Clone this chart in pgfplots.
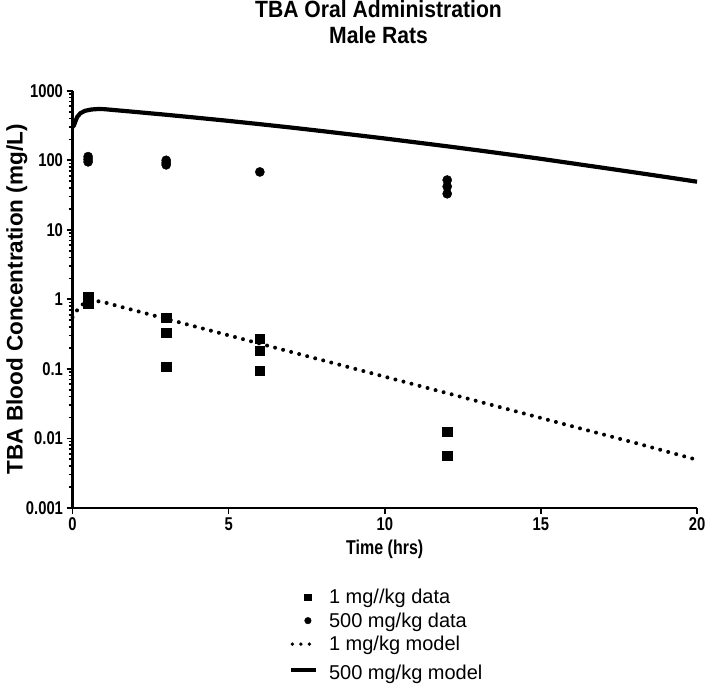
\documentclass[border=0pt]{standalone}
\usepackage{fontspec}
\setmainfont{Liberation Sans}
\newfontfamily\cond{Liberation Sans}[FakeStretch=0.8]
\newfontfamily\condt{Liberation Sans}[FakeStretch=0.9]
\usepackage{pgfplots}
\pgfplotsset{compat=1.18}

\pgfplotstableread{
x y
0.5 1.10
0.5 0.95
0.5 0.87
3 0.55
3 0.33
3 0.107
6 0.27
6 0.18
6 0.093
12 0.0124
12 0.0056
}\lowdata

\pgfplotstableread{
x y
0.5 113
0.5 103
0.5 95
3 100
3 92
3 86
6 68
12 52
12 42
12 33
}\highdata

\pgfplotstableread{
x y
0 0.55
0.1 0.65
0.2 0.75
0.3 0.83
0.45 0.91
0.6 0.95
0.8 0.94
1 0.91
1.5 0.79
2 0.69
3 0.524
4 0.398
5 0.303
6 0.230
8 0.133
10 0.0770
12 0.0446
14 0.0258
16 0.0149
18 0.00864
20 0.0049
}\lowmodel

\pgfplotstableread{
x y
0 300
0.05 320
0.1 370
0.15 420
0.25 475
0.4 515
0.6 538
0.8 546
1 545
2 497
3 452
4 409
5 369
6 331
7 296
8 263
9 233
10 206
11 181
12 159
13 139
14 121
15 105
16 90.4
17 77.9
18 67.0
19 57.5
20 49.2
}\highmodel

\begin{document}
\begin{tikzpicture}
\begin{axis}[
  scale only axis, width=624.5pt, height=417pt,
  ymode=log, xmin=0, xmax=20, ymin=0.001, ymax=1000,
  axis lines=left, axis line style={line width=2.4pt, -},
  xtick={0,5,10,15,20}, xticklabels={0,5,10,15,20},
  ytick={0.001,0.01,0.1,1,10,100,1000},
  yticklabels={0.001,0.01,0.1,1,10,100,1000},
  minor ytick={0.002,0.003,0.004,0.005,0.006,0.007,0.008,0.009,
    0.02,0.03,0.04,0.05,0.06,0.07,0.08,0.09,
    0.2,0.3,0.4,0.5,0.6,0.7,0.8,0.9,
    2,3,4,5,6,7,8,9,
    20,30,40,50,60,70,80,90,
    200,300,400,500,600,700,800,900},
  tick align=outside, major tick length=6pt, minor tick length=4pt,
  every tick/.style={line width=1.6pt, black},
  tick label style={font=\cond\fontsize{18.5}{21}\selectfont\bfseries},
  xlabel={Time (hrs)},
  ylabel={TBA Blood Concentration (mg/L)},
  xlabel style={font=\cond\fontsize{20}{23}\selectfont\bfseries, at={(axis description cs:0.5,-0.1)}, anchor=center},
  ylabel style={font=\fontsize{22.5}{25}\selectfont\bfseries, at={(axis description cs:-0.089,0.5)}, anchor=center},
  title={TBA Oral Administration\\Male Rats},
  title style={font=\condt\fontsize{23.5}{26}\selectfont\bfseries, align=center, at={(axis description cs:0.49,1)}, anchor=north, yshift=85pt, inner sep=0pt},
  clip=false,
  legend style={font=\fontsize{20}{23}\selectfont, draw=none, fill=none,
    at={(axis description cs:0.503,-0.185)}, anchor=north, row sep=3.5pt,
    cells={anchor=west},
    /tikz/every odd column/.append style={column sep=9pt}},
]
\addplot[black, line width=4pt, line cap=round, dash pattern=on 0pt off 8.3pt, forget plot] table[x=x,y=y] {\lowmodel};
\addplot[black, line width=4.2pt, forget plot] table[x=x,y=y] {\highmodel};
\addplot[only marks, mark=square*, mark size=4.6pt, black, forget plot] table[x=x,y=y] {\lowdata};
\addplot[only marks, mark=*, mark size=4.6pt, black, forget plot] table[x=x,y=y] {\highdata};

\addlegendimage{legend image code/.code={\path (0pt,0pt) (25pt,0pt); \draw[black, mark=square*, mark size=3.3pt] plot coordinates {(17pt,0pt)};}}
\addlegendentry{1 mg//kg data}
\addlegendimage{legend image code/.code={\path (0pt,0pt) (25pt,0pt); \draw[black, mark=*, mark size=3.3pt] plot coordinates {(17pt,0pt)};}}
\addlegendentry{500 mg/kg data}
\addlegendimage{legend image code/.code={\path (0pt,0pt) (25pt,0pt); \draw[black, line width=3.8pt, line cap=round, dash pattern=on 0pt off 8.5pt] (1.5pt,0pt) -- (20pt,0pt);}}
\addlegendentry{1 mg/kg model}
\addlegendimage{legend image code/.code={\draw[black, line width=4.2pt] (0pt,0pt) -- (25pt,0pt);}}
\addlegendentry{\rule{0pt}{20pt}500 mg/kg model}

\path[draw=none] (axis description cs:-0.1161,-0.4412) rectangle (axis description cs:1.0192,1.2158);
\end{axis}
\end{tikzpicture}
\end{document}
